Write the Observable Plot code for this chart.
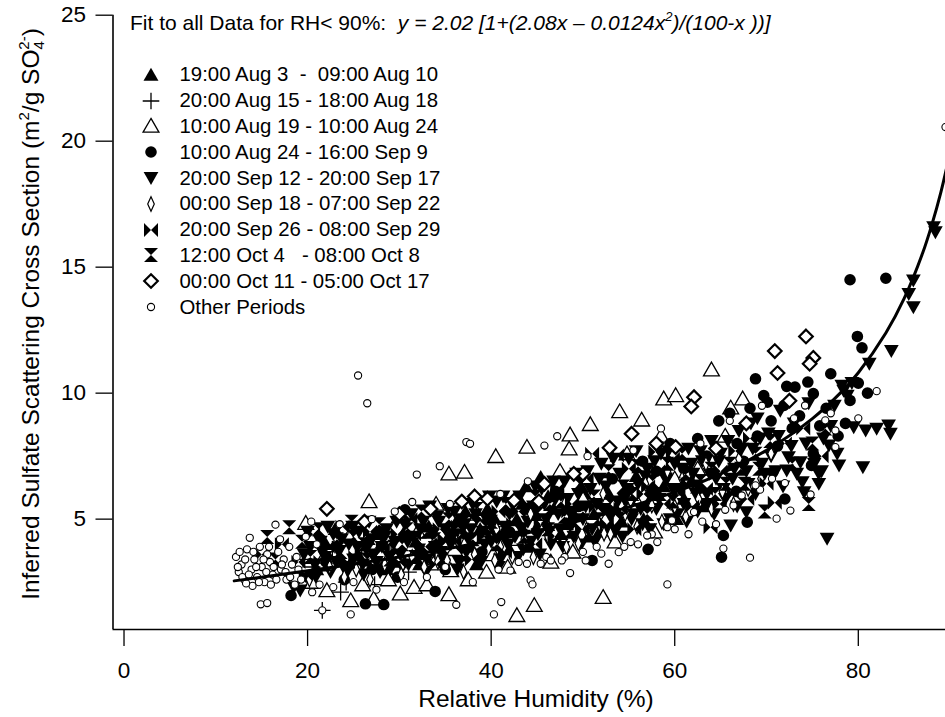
<!DOCTYPE html>
<html><head><meta charset="utf-8">
<script src="https://cdn.jsdelivr.net/npm/d3@7"></script>
<script src="https://cdn.jsdelivr.net/npm/@observablehq/plot@0.6"></script>
<style>
body{margin:0;background:#fff;}
#wrap{position:relative;width:945px;height:717px;font-family:"Liberation Sans",Arial,Helvetica,sans-serif;color:#000;background:#fff;}
#title{position:absolute;left:130px;top:12px;font-size:21px;line-height:21px;white-space:pre;}
#title sup{font-size:13px;line-height:0;vertical-align:9px;}
#legend{position:absolute;left:140px;top:62px;}
.row{height:25.8px;display:flex;align-items:center;font-size:20.4px;white-space:pre;}
.row svg{width:22px;height:22px;margin-right:17.5px;flex:none;}
</style></head>
<body><div id="wrap"></div>
<script>
// ---------- data (RH %, scattering cross section) ----------
const xDomain = [-1.2, 89.5];
const yDomain = [0.62, 25];
const xTicks = [0, 20, 40, 60, 80];
const yTicks = [5, 10, 15, 20, 25];

const fitX = [12, 20, 30, 40, 50, 60, 65, 70, 75, 78, 80, 83, 85, 87, 88, 89, 90];
const fitY = [2.55, 2.95, 3.50, 4.15, 4.97, 6.07, 6.80, 7.73, 8.99, 9.99, 10.81, 12.39, 13.76, 15.55, 16.67, 17.98, 19.55];

const aug3 = [[21.0,3.0],[23.0,4.6],[25.5,3.6],[27.8,4.4],[29.2,3.3],[31.8,4.1],[33.2,4.7],[34.8,3.6],[36.2,4.9],[37.8,3.9],[38.8,4.6],[39.6,5.4],[41.2,4.4],[42.8,5.0],[43.8,6.3],[44.2,3.9],[45.4,6.67],[46.8,5.4],[48.2,4.8],[49.8,6.3],[50.6,4.3],[51.2,5.2],[52.8,6.0],[54.2,4.9],[55.8,6.7],[57.2,5.7],[58.8,6.3],[60.2,5.0],[61.8,6.5],[63.2,5.5],
[22.0,4.0],[24.6,3.2],[26.6,4.2],[28.6,3.0],[30.4,4.4],[32.2,3.2],[34.0,4.0],[35.5,4.4],[37.2,5.3],[38.4,3.2],[40.4,5.0],[42.0,3.8],[43.4,5.6],[45.0,4.7],[46.2,5.9],[47.6,4.4],[49.0,5.2],[50.2,6.0],[51.8,4.5],[53.6,5.4],[55.2,5.8],[56.6,5.0],[58.0,6.0],[59.6,6.6],[61.0,5.8]];

const aug15 = [[19.5,3.4],[20.5,3.1],[21.6,1.38],[22.7,3.8],[23.6,2.1],[24.2,2.5],[25.8,3.2],[27.3,2.4],[29.1,3.7],[31.0,2.9]];

const aug19 = [[64.0,10.93],[58.8,9.78],[60.1,9.91],[54.0,9.27],[56.4,8.94],[50.8,8.76],[48.6,8.35],[48.5,7.79],[43.9,7.86],[40.5,7.49],[35.4,6.8],[37.1,6.87],[26.7,5.7],[19.8,4.84],[67.4,9.78],[66.1,9.42],
[52.2,1.9],[44.7,1.58],[42.8,1.18],[35.4,2.01],[37.5,2.6],[22.1,2.17],[24.7,1.77],[27.2,1.84],[30.1,2.04],[31.6,2.3],[20.5,2.5],[26.0,2.4],[28.8,2.6],[33.0,2.4],[39.5,2.9],[41.8,3.1],[46.5,3.3],[48.9,3.7],[53.5,4.1],[57.8,4.5],[35.6,2.96],[33.7,3.23],
[21.8,3.5],[24.5,4.3],[28.0,3.6],[32.0,4.5],[36.0,3.8],[40.2,3.6],[43.0,4.2],[46.0,4.8],[50.0,5.8],[52.5,5.0],[56.0,5.6],[60.0,6.6],[62.5,7.0],[65.5,8.3],[38.5,5.2],[34.0,5.6],[30.0,5.1],[47.5,6.9],[54.8,7.6],[58.5,8.3]];

const aug24 = [[79.1,14.5],[83.0,14.56],[79.9,12.25],[80.4,11.8],[77.0,10.77],[79.1,9.71],[68.8,10.57],[71.9,9.51],[72.2,10.27],[73.1,10.24],[69.7,9.9],[70.1,9.64],[74.5,10.44],[75.1,9.98],[75.1,7.6],[74.9,7.13],[70.7,6.87],[67.9,4.88],[65.3,4.35],[65.1,3.49],[57.1,3.8],[51.0,3.36],[33.9,2.13],[26.3,1.64],[28.3,1.61],[18.2,1.97],[30.6,5.37],
[62.5,8.2],[63.5,7.5],[64.8,8.9],[66.0,9.2],[66.8,8.0],[67.5,7.3],[68.2,9.4],[69.0,8.3],[70.5,8.9],[71.2,7.9],[72.8,8.6],[73.6,9.1],[75.8,8.7],[76.5,9.4],[77.8,8.3],[78.6,8.8],[61.0,7.0],[59.5,8.0],[58.0,6.9],[56.5,7.3],[55.0,6.2],[53.2,6.6],[49.5,5.5],[47.0,6.1],[44.5,5.3],[42.0,4.5],[39.0,3.7],[36.8,4.4],[35.0,3.0],[32.5,3.6],[29.8,2.7],[27.0,3.0],[24.0,2.6],[22.0,3.3],[20.0,2.7],[63.8,5.6],[66.7,6.1],[72.0,5.8],[80.0,10.4],[81.0,10.0]];

const sep12 = [[18.5,2.3],[19.2,2.17],[19.6,3.6],[20.3,3.9],[20.8,3.2],[21.4,4.1],[21.9,3.5],[22.5,2.9],[22.8,4.4],[23.4,3.7],[23.9,3.1],[24.5,4.0],[25.0,3.4],[25.6,4.5],[26.1,2.8],[26.4,3.8],[27.0,4.2],[27.5,3.3],[28.1,3.9],[28.6,4.6],[29.0,3.0],[29.5,4.1],[30.1,3.6],[30.6,4.8],
[31.0,3.2],[31.5,4.3],[32.1,3.8],[32.6,4.9],[33.0,3.4],[33.6,4.4],[34.1,5.1],[34.5,3.7],[35.0,4.6],[35.6,4.0],[36.0,5.3],[36.5,3.3],[37.1,4.8],[37.5,4.2],[38.0,5.6],[38.6,3.6],[39.1,4.5],[39.5,5.0],[40.0,4.1],[40.6,5.7],[41.0,3.4],[41.5,4.7],[42.0,5.2],[42.6,4.3],[43.1,5.9],[43.5,3.8],[44.0,4.9],[44.6,5.5],[45.1,4.4],[45.5,6.2],
[46.0,5.0],[46.5,4.0],[47.0,5.8],[47.5,4.6],[48.0,6.5],[48.5,5.3],[49.0,4.3],[49.5,6.0],[50.0,5.0],[50.5,6.9],[51.0,4.6],[51.5,5.6],[52.0,7.2],[52.5,6.3],[53.0,5.1],[53.5,4.5],[54.0,6.8],[54.5,5.8],[55.0,7.4],[55.5,5.2],[56.0,6.4],[56.5,4.8],[57.0,7.0],[57.5,6.0],[58.0,5.4],[58.5,7.6],[59.0,6.6],[59.5,5.0],[60.0,7.2],
[60.5,6.2],[61.0,5.6],[61.5,7.8],[62.0,6.8],[62.5,5.3],[63.0,7.3],[63.5,6.0],[64.0,8.1],[64.5,6.6],[65.0,7.6],[65.5,5.8],[66.1,4.75],[66.5,7.0],[67.0,8.5],[67.8,5.28],[68.0,6.4],[68.5,7.8],[69.0,9.0],[69.5,7.2],[70.2,8.4],[71.0,6.9],[71.5,9.3],[72.2,6.93],[72.4,7.46],[73.0,8.8],[73.7,7.26],[73.9,6.47],[74.1,6.07],[74.6,9.6],[75.7,6.8],[75.7,6.4],[76.2,8.2],[76.6,4.22],[76.8,7.92],[77.4,9.5],[77.7,7.6],[77.9,7.13],[78.2,10.3],[78.4,10.1],[78.8,9.9],[79.3,10.4],
[79.5,8.65],[80.5,7.06],[80.8,8.52],[81.2,11.17],[82.0,8.59],[83.3,8.72],[83.5,8.39],[83.6,11.67],[85.5,13.94],[86.0,14.47],[86.0,13.41],[88.2,16.59],[88.4,16.39],
[20.0,4.5],[20.9,2.7],[21.6,3.7],[22.2,4.7],[23.1,3.3],[23.7,4.2],[24.3,2.9],[24.9,4.7],[25.4,3.9],[26.0,3.2],[26.7,4.9],[27.2,3.6],[27.9,2.9],[28.4,4.3],[28.9,3.5],[29.7,4.9],[30.3,3.1],[30.9,4.1],
[31.3,5.2],[31.9,3.5],[32.3,4.6],[32.9,2.9],[33.3,5.5],[33.9,3.9],[34.3,4.9],[34.8,3.2],[35.3,5.4],[35.9,4.4],[36.3,3.0],[36.8,5.0],[37.3,3.7],[37.8,4.6],[38.3,5.2],[38.9,3.3],[39.3,4.0],[39.8,5.9],[40.3,4.5],[40.8,3.1],
[41.3,5.9],[41.8,4.0],[42.3,5.6],[42.9,3.5],[43.3,4.6],[43.8,5.4],[44.3,4.1],[44.8,6.3],[45.3,3.6],[45.8,5.6],[46.3,4.5],[46.8,6.5],[47.3,5.2],[47.8,3.9],[48.3,5.8],[48.8,4.8],[49.3,6.8],[49.8,4.0],[50.3,5.5],[50.8,6.2],
[51.3,4.1],[51.8,6.6],[52.3,5.4],[52.8,4.5],[53.3,7.4],[53.8,5.7],[54.3,4.3],[54.8,6.2],[55.3,5.0],[55.8,7.7],[56.3,5.4],[56.8,6.7],[57.3,4.6],[57.8,7.3],[58.3,5.8],[58.8,4.8],[59.3,7.7],[59.8,6.2],[60.3,5.2],[60.8,7.0],
[61.3,4.9],[61.8,7.2],[62.3,6.0],[62.8,7.7],[63.3,5.6],[63.8,6.8],[64.3,5.2],[64.8,7.3],[65.3,6.2],[65.8,8.1],[66.3,6.6],[66.8,5.5],[67.3,7.8],[67.8,6.9],[68.3,8.8],[68.8,6.0],[69.3,8.2],[69.8,6.8],[70.5,7.5],[71.3,8.3],[71.8,6.3],[72.7,7.9],[73.3,6.8],[74.3,8.0],[75.2,7.2],[76.0,6.9],[77.0,8.7]];

const sep18 = [[20.2,2.6],[22.4,3.1],[24.0,2.7],[25.3,3.0],[26.8,2.6],[28.4,3.2],[30.2,2.8],[30.4,3.23],[31.4,3.5],[32.7,3.1],[34.2,3.3],[35.2,3.36],[37.0,2.9],[38.2,3.6],[40.4,3.36],[41.0,3.9],[42.3,3.5],[43.6,4.2],[44.6,3.49],[46.2,4.3],[48.2,3.89],[49.5,4.03],[50.4,4.6],[51.8,4.8],[52.3,4.42],[53.0,4.4],[54.6,5.2],[55.2,5.74],[55.9,4.7],[57.5,5.54],[58.6,4.9],[60.0,5.5],[60.8,6.6],[61.2,5.1],[62.6,5.8],[64.1,7.26],[64.0,5.4],[65.2,6.1],[66.4,5.6],[68.0,6.2],[69.4,6.6],[48.0,5.6],[52.2,6.0],[44.3,5.2],[40.6,4.6],[36.6,4.2],[56.8,6.4],[59.2,6.9],[63.4,7.2],[67.0,7.4],[70.5,7.6]];

const sep26 = [[15.0,3.6],[17.2,4.0],[19.0,3.3],[20.6,4.4],[22.2,3.9],[23.8,4.7],[25.2,3.5],[26.8,4.5],[28.2,3.8],[29.8,4.4],[31.2,5.0],[32.8,3.9],[34.4,4.6],[36.0,4.1],[37.6,5.1],[39.2,4.3],[40.8,5.3],[42.4,4.8],[44.0,5.6],[45.6,5.1],[47.2,6.2],[48.8,5.6],[50.4,6.6],[51.0,7.6],[53.7,7.53],[57.9,7.66],[55.0,7.0],[56.6,6.0],[58.2,6.9],[59.8,7.4],[61.4,6.4],[63.9,4.68],[65.0,6.9],[66.6,7.7],[68.2,8.2],[70.9,5.65],[72.0,8.0],[74.0,8.6],[76.0,7.5],[34.0,3.2],[44.8,4.0],
[19.8,2.8],[21.4,3.3],[22.9,3.5],[24.4,3.3],[25.9,3.9],[27.4,3.1],[28.8,4.0],[30.0,3.3],[31.6,4.4],[33.2,3.7],[34.9,4.2],[36.4,4.7],[37.9,3.4],[39.0,5.0],[40.2,4.3],[41.5,3.7],[43.0,5.3],[44.2,4.5],[45.4,4.8],[46.9,4.3],[48.4,5.3],[49.9,4.6],[51.4,5.5],[52.6,4.8],[54.1,5.4],[55.6,4.6],[57.1,6.3],[58.8,5.6],[60.4,6.0],[61.9,5.5],[63.4,6.2],[64.9,5.6],[66.4,6.0],[67.9,5.8],[70.0,6.4]];

const oct4 = [[15.6,4.29],[18.0,4.68],[16.5,3.4],[19.4,4.1],[21.2,4.6],[23.2,4.2],[24.8,4.9],[26.2,4.0],[27.8,4.8],[29.4,3.9],[30.8,4.6],[32.4,5.3],[33.8,4.2],[35.4,5.0],[37.0,4.5],[38.4,5.4],[40.0,4.9],[41.6,5.6],[43.2,4.6],[44.8,5.9],[46.4,5.6],[48.0,5.1],[49.6,6.4],[51.2,5.9],[52.8,6.9],[54.4,6.3],[56.0,7.1],[57.6,6.5],[59.2,7.2],[60.8,7.6],[62.4,6.3],[64.0,7.0],[65.6,6.4],[67.2,7.0],[68.8,7.6],[70.4,8.1],[72.8,7.2],[75.0,8.0],[76.4,8.6],[74.6,5.6],[69.8,5.3],
[20.3,3.5],[22.0,3.2],[23.6,3.7],[25.0,4.3],[26.5,3.4],[28.0,4.1],[29.0,3.4],[30.3,4.0],[31.7,3.5],[33.0,4.5],[34.6,3.9],[35.8,4.6],[36.8,3.6],[38.0,4.2],[39.4,4.7],[40.6,4.0],[42.0,5.0],[43.6,4.3],[45.0,5.2],[46.2,4.6],[47.6,5.7],[48.6,4.5],[50.0,5.3],[51.6,5.0],[53.0,5.6],[54.0,5.0],[55.4,6.0],[57.0,5.2],[58.4,6.0],[59.8,5.7],[61.2,6.8],[62.8,6.5],[64.4,6.0],[66.0,7.2],[67.6,6.4],[69.2,7.0]];

const oct11 = [[74.3,12.25],[70.9,11.67],[75.1,11.4],[74.7,11.17],[71.2,10.8],[62.1,9.84],[61.8,9.47],[55.3,8.39],[52.9,7.83],[60.1,7.86],[22.1,5.41],[26.2,4.9],[30.0,5.2],[33.4,5.4],[36.8,5.7],[39.6,5.81],[42.5,5.74],[45.2,5.71],[50.0,6.8],[45.8,6.4],[49.0,6.8],[64.5,7.8],[67.8,8.8],[72.5,9.7],[58.0,8.0],[38.2,5.9]];

const other = [[12.2,3.5],[12.5,2.9],[12.8,3.2],[13.1,2.6],[13.4,3.8],[13.7,4.26],[13.9,3.0],[14.2,3.4],[14.5,2.7],[14.8,3.9],[15.0,3.1],[15.3,2.5],[15.6,3.6],[15.9,3.3],[16.2,2.8],[16.5,4.78],[16.8,3.7],[17.1,3.0],[17.4,3.4],[17.7,2.6],[18.0,3.9],[18.3,3.2],[14.0,2.35],[16.0,2.4],[14.9,1.62],[15.6,1.67],[12.6,3.7],[13.3,2.45],[17.0,4.2],[18.6,2.4],
[12.4,3.1],[12.9,2.7],[13.2,3.4],[13.6,2.8],[14.1,3.7],[14.4,3.1],[14.7,2.5],[15.2,3.4],[15.5,2.9],[15.8,3.9],[16.3,3.1],[16.6,2.6],[17.2,3.2],[17.6,2.9],[18.1,2.7],[18.8,3.5],[19.3,2.6],[19.8,4.3],[20.4,4.9],[21.3,2.4],
[25.5,10.7],[26.5,9.6],[37.3,8.06],[37.7,7.99],[34.4,7.1],[31.9,6.77],[31.4,5.68],[45.8,7.92],[47.2,8.29],[55.5,7.73],[24.7,1.22],[21.6,1.38],[40.3,1.22],[41.1,1.71],[36.2,1.6],[44.3,2.57],[44.5,2.41],[48.6,2.86],[52.8,3.23],[53.9,3.69],[59.2,2.41],[82.0,10.08],[89.5,20.56],[72.6,5.34],[71.1,5.02],[74.8,5.98],[70.6,6.6],[72.0,6.43],[69.3,6.17],[68.8,6.34],[66.4,5.54],[65.5,5.37],[67.3,5.94],[65.3,3.83],[68.2,3.47],
[20.5,2.1],[22.8,2.3],[25.0,2.5],[27.5,2.2],[30.5,2.5],[33.0,2.7],[35.0,3.1],[38.0,2.5],[40.8,3.0],[43.0,3.3],[46.0,3.5],[48.0,3.5],[50.0,3.7],[51.5,3.9],[54.5,3.9],[56.0,4.0],[57.5,4.4],[60.0,4.6],[61.5,4.4],[63.0,4.9],[64.5,4.8],[19.0,3.0],[21.0,4.0],[23.5,4.8],[27.0,5.0],[29.5,5.3],[35.5,5.6],[41.0,6.0],[44.0,6.5],[50.5,7.5],[58.5,8.6],[62.8,8.0],[66.0,8.9],[69.5,9.5],[73.0,9.0],[77.0,9.2],[80.0,9.0],
[74.2,9.51],[76.4,8.92],[77.5,8.52],[77.5,7.86],[50.3,3.36],[52.0,3.63],[55.2,4.09],[57.0,4.35],[58.1,4.09],[59.2,4.68],[59.7,4.95],[62.1,5.28],[42.1,2.96],[43.9,3.23],[45.4,3.23],[46.5,3.36],[47.7,3.36]];

const labels = ["19:00 Aug 3  -  09:00 Aug 10","20:00 Aug 15 - 18:00 Aug 18","10:00 Aug 19 - 10:00 Aug 24","10:00 Aug 24 - 16:00 Sep 9","20:00 Sep 12 - 20:00 Sep 17","00:00 Sep 18 - 07:00 Sep 22","20:00 Sep 26 - 08:00 Sep 29","12:00 Oct 4   - 08:00 Oct 8","00:00 Oct 11 - 05:00 Oct 17","Other Periods"];

// ---------- marker shapes ----------
const sym = fn => ({draw(c, size){ const r = Math.sqrt(size/Math.PI); fn(c, r); }});
const triUp = sym((c,r)=>{c.moveTo(0,-r*1.05);c.lineTo(r*1.1,r*0.85);c.lineTo(-r*1.1,r*0.85);c.closePath();});
const triDown = sym((c,r)=>{c.moveTo(0,r*1.0);c.lineTo(r*1.05,-r*0.85);c.lineTo(-r*1.05,-r*0.85);c.closePath();});
const circ = sym((c,r)=>{c.moveTo(r,0);c.arc(0,0,r,0,2*Math.PI);c.closePath();});
const plus = sym((c,r)=>{c.moveTo(-r,0);c.lineTo(r,0);c.moveTo(0,-r);c.lineTo(0,r);});
const bowtie = sym((c,r)=>{c.moveTo(-r,-r);c.lineTo(0,0);c.lineTo(-r,r);c.closePath();c.moveTo(r,-r);c.lineTo(0,0);c.lineTo(r,r);c.closePath();});
const hourglass = sym((c,r)=>{c.moveTo(-r,-r);c.lineTo(r,-r);c.lineTo(0,0);c.closePath();c.moveTo(-r,r);c.lineTo(r,r);c.lineTo(0,0);c.closePath();});
const diamond = sym((c,r)=>{c.moveTo(0,-r);c.lineTo(r,0);c.lineTo(0,r);c.lineTo(-r,0);c.closePath();});
const thinDiamond = sym((c,r)=>{c.moveTo(0,-r);c.lineTo(r*0.45,0);c.lineTo(0,r);c.lineTo(-r*0.45,0);c.closePath();});

const series = [
  {data: aug3,  symbol: triUp,      r: 6.8, fill: "black", stroke: "none", sw: 0},
  {data: aug15, symbol: plus,       r: 8.3, fill: "none",  stroke: "black", sw: 1.3},
  {data: aug19, symbol: triUp,      r: 7.2, fill: "white", stroke: "black", sw: 1.3},
  {data: aug24, symbol: circ,       r: 5.8, fill: "black", stroke: "none", sw: 0},
  {data: sep12, symbol: triDown,    r: 7.0, fill: "black", stroke: "none", sw: 0},
  {data: sep18, symbol: thinDiamond,r: 7.3, fill: "white", stroke: "black", sw: 1.2},
  {data: sep26, symbol: bowtie,     r: 7.0, fill: "black", stroke: "none", sw: 0},
  {data: oct4,  symbol: hourglass,  r: 7.0, fill: "black", stroke: "none", sw: 0},
  {data: oct11, symbol: diamond,    r: 6.8, fill: "white", stroke: "black", sw: 2.2},
  {data: other, symbol: circ,       r: 3.6, fill: "white", stroke: "black", sw: 1.1}
];

const fit = fitX.map((x,i)=>({x, y: fitY[i]}));

const svg = Plot.plot({
  width: 945, height: 717,
  marginLeft: 112.5, marginRight: 0, marginTop: 14.7, marginBottom: 88,
  x: {domain: xDomain},
  y: {domain: yDomain},
  style: {fontFamily: '"Liberation Sans", Arial, sans-serif', background: "white", color: "black", overflow: "hidden"},
  marks: [
    Plot.axisX({ticks: xTicks, tickSize: 17, tickPadding: 16, fontSize: 22.5, label: null, strokeWidth: 1.3}),
    Plot.axisY({ticks: yTicks, tickSize: 17, tickPadding: 10, fontSize: 22.5, label: null, strokeWidth: 1.3}),
    Plot.ruleY([yDomain[0]], {strokeWidth: 1.6}),
    Plot.ruleX([xDomain[0]], {strokeWidth: 1.6}),
    ...series.map(s => Plot.dot(s.data, {x: d=>d[0], y: d=>d[1], symbol: s.symbol, r: s.r, fill: s.fill, stroke: s.stroke, strokeWidth: s.sw})),
    Plot.line(fit, {x: "x", y: "y", curve: "catmull-rom", strokeWidth: 3, clip: true})
  ]
});

const wrap = document.getElementById("wrap");
wrap.appendChild(svg);
const s = d3.select(svg);
s.append("text").attr("x", 536).attr("y", 707).attr("text-anchor","middle")
  .attr("font-size", 24.5).attr("fill","black").text("Relative Humidity (%)");
const yt = s.append("text").attr("transform","translate(39,314) rotate(-90)").attr("text-anchor","middle")
  .attr("font-size", 24.5).attr("fill","black");
yt.append("tspan").text("Inferred Sulfate Scattering Cross Section (m");
yt.append("tspan").attr("font-size",15).attr("dy",-10).text("2");
yt.append("tspan").attr("dy",10).text("/g SO");
yt.append("tspan").attr("font-size",15).attr("dy",5).text("4");
yt.append("tspan").attr("font-size",15).attr("dx",-8.5).attr("dy",-15).text("2-");
yt.append("tspan").attr("dy",10).text(")");

// title
const title = document.createElement("div");
title.id = "title";
title.innerHTML = 'Fit to all Data for RH&lt; 90%:  <i>y = 2.02 [1+(2.08x – 0.0124x<sup>2</sup>)/(100-x ))]</i>';
wrap.appendChild(title);

// legend
const legend = document.createElement("div");
legend.id = "legend";
series.forEach((sr, i) => {
  const row = document.createElement("div");
  row.className = "row";
  const p = d3.path();
  sr.symbol.draw(p, Math.PI * sr.r * sr.r);
  row.innerHTML = `<svg viewBox="-11 -11 22 22"><path d="${p.toString()}" fill="${sr.fill}" stroke="${sr.stroke}" stroke-width="${sr.sw}"/></svg><span>${labels[i]}</span>`;
  legend.appendChild(row);
});
wrap.appendChild(legend);
</script></body></html>
